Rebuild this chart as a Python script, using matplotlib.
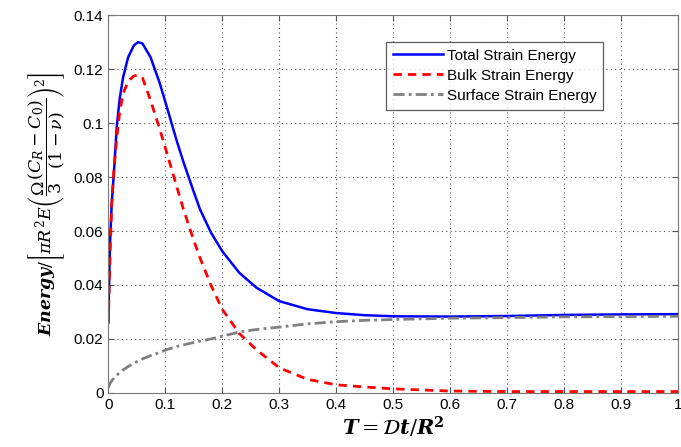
import matplotlib
matplotlib.use('agg')
import matplotlib.pyplot as plt

# values
T = [0, 0.003, 0.006, 0.01, 0.015, 0.02, 0.026, 0.035, 0.045, 0.052, 0.06, 0.074,
     0.09, 0.102, 0.12, 0.132, 0.15, 0.161, 0.18, 0.2, 0.23, 0.26, 0.3, 0.35, 0.4,
     0.45, 0.5, 0.6, 0.7, 0.8, 0.9, 1.0]
total = [0.026, 0.055, 0.07, 0.082, 0.099, 0.109, 0.117, 0.1245, 0.1288, 0.13, 0.1295,
         0.1245, 0.115, 0.1065, 0.0935, 0.0855, 0.0745, 0.068, 0.0595, 0.0525, 0.0445,
         0.039, 0.034, 0.031, 0.0296, 0.0288, 0.0284, 0.0283, 0.0285, 0.0289,
         0.0291, 0.0292]
bulk = [0.026, 0.05, 0.07, 0.083, 0.095, 0.104, 0.111, 0.1155, 0.1175, 0.1178, 0.1168,
        0.1085, 0.098, 0.0895, 0.0765, 0.068, 0.0565, 0.05, 0.04, 0.031, 0.022, 0.016,
        0.0093, 0.005, 0.003, 0.0022, 0.0015, 0.0007, 0.0005, 0.0005, 0.0005, 0.0005]
surface = [0.002, 0.0035, 0.0045, 0.0055, 0.0066, 0.0075, 0.0085, 0.0098, 0.011,
           0.0118, 0.0126, 0.0138, 0.015, 0.016, 0.0172, 0.0178, 0.0187, 0.0192,
           0.0200, 0.021, 0.0226, 0.0235, 0.0244, 0.0256, 0.0264, 0.0269, 0.0272,
           0.0277, 0.0279, 0.0282, 0.0283, 0.0284]
labels = ['Total Strain Energy', 'Bulk Strain Energy', 'Surface Strain Energy']
xticks = [0, 0.1, 0.2, 0.3, 0.4, 0.5, 0.6, 0.7, 0.8, 0.9, 1]
xticklabels = ['0', '0.1', '0.2', '0.3', '0.4', '0.5', '0.6', '0.7', '0.8', '0.9', '1']
yticks = [0, 0.02, 0.04, 0.06, 0.08, 0.1, 0.12, 0.14]
yticklabels = ['0', '0.02', '0.04', '0.06', '0.08', '0.1', '0.12', '0.14']

plt.rcParams['font.family'] = ['Liberation Sans', 'DejaVu Sans']
plt.rcParams['mathtext.fontset'] = 'dejavuserif'

fig = plt.figure(figsize=(6.81, 4.47), dpi=100)
ax = fig.add_axes([0.159, 0.121, 0.837, 0.845])

ax.plot(T, total, color='#0000ff', lw=1.8, label=labels[0])
ax.plot(T, bulk, color='#ff0000', lw=2.0, ls=(0, (3, 2.2)), label=labels[1])
ax.plot(T, surface, color='#808080', lw=2.0, ls=(0, (4, 1.5, 1, 1.5)), label=labels[2])

ax.set_xlim(0, 1)
ax.set_ylim(0, 0.14)
ax.set_xticks(xticks)
ax.set_xticklabels(xticklabels)
ax.set_yticks(yticks)
ax.set_yticklabels(yticklabels)
ax.tick_params(direction='in', top=True, right=True, labelsize=11, length=4,
               color='#555555')
ax.grid(True, ls=(0, (1, 3)), color='#555555', lw=0.8)
for s in ax.spines.values():
    s.set_color('#777777')

ax.set_xlabel(r'$\mathbfit{T} = \mathcal{D}\mathbfit{t}/\mathbfit{R}^{\mathbf{2}}$',
              fontsize=15, labelpad=2)
ax.set_ylabel(r'$\mathbfit{Energy}/\left[\pi R^2 E\left(\dfrac{\Omega}{3}'
              r'\dfrac{(C_R-C_0)}{(1-\nu)}\right)^2\right]$', fontsize=12.5, labelpad=4)

leg = ax.legend(loc='upper right', bbox_to_anchor=(0.868, 0.93), fontsize=11,
                frameon=True, fancybox=False, borderpad=0.45, labelspacing=0.4,
                handlelength=3.3, handletextpad=0.2, borderaxespad=0)
leg.get_frame().set_edgecolor('#333333')
leg.get_frame().set_linewidth(0.9)

fig.savefig('out.png', dpi=100)
